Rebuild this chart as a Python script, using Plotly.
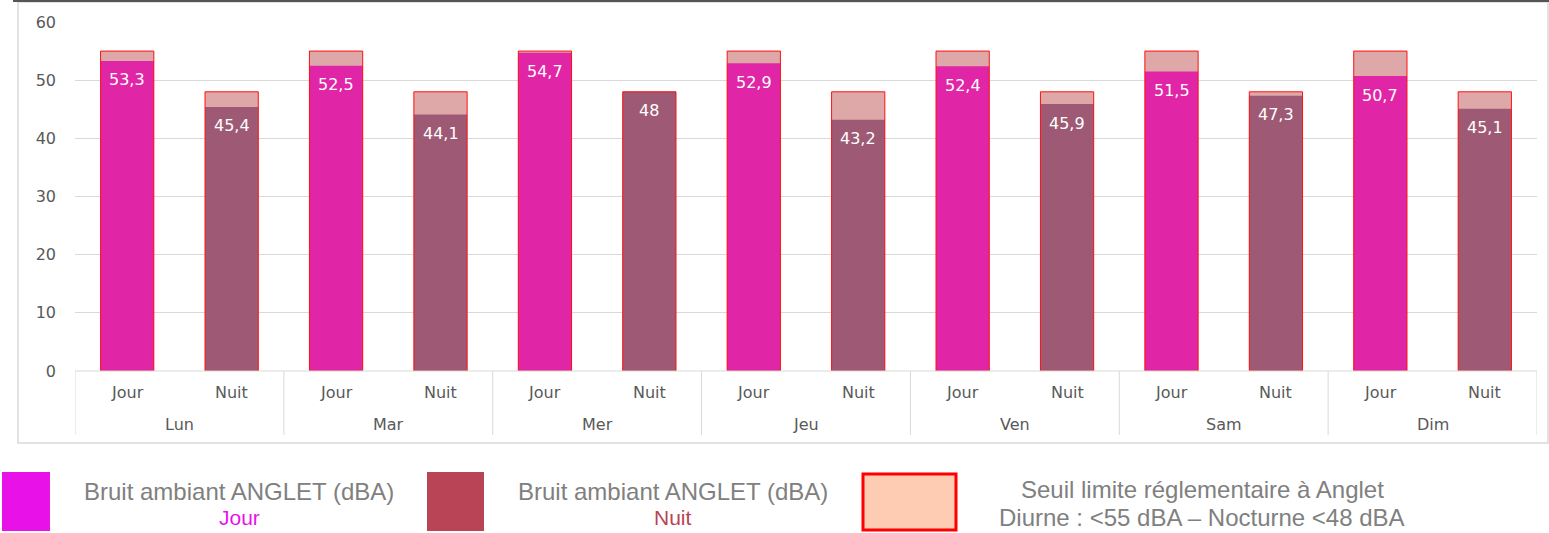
import plotly.graph_objects as go

days = ["Lun", "Mar", "Mer", "Jeu", "Ven", "Sam", "Dim"]
periods = ["Jour", "Nuit"]
jour_vals = [53.3, 52.5, 54.7, 52.9, 52.4, 51.5, 50.7]
nuit_vals = [45.4, 44.1, 48.0, 43.2, 45.9, 47.3, 45.1]
seuil_jour = 55
seuil_nuit = 48

W, H = 1549, 533
L, R, T, B = 75, 12, 22, 162
PW = W - L - R
PH = H - T - B

def px_x(p):
    return (p - L) / PW

def px_y(p):
    return (H - B - p) / PH

cats, pers, vals, seuils, colors = [], [], [], [], []
for d, j, n in zip(days, jour_vals, nuit_vals):
    for p, v, s, c in (("Jour", j, seuil_jour, "#E026A6"), ("Nuit", n, seuil_nuit, "#9E5A74")):
        cats.append(d + " " + p)
        pers.append(p)
        vals.append(v)
        seuils.append(s)
        colors.append(c)

labels = [("%g" % v).replace(".", ",") for v in vals]
bw = 0.51
TICKFONT = dict(family="DejaVu Sans", size=16, color="#595959")

fig = go.Figure()
fig.add_trace(go.Bar(x=cats, y=seuils, width=bw, marker=dict(color="#DEA8A8", line=dict(width=0)),
                     hoverinfo="skip", showlegend=False))
fig.add_trace(go.Bar(x=cats, y=vals, width=bw, marker=dict(color=colors, line=dict(width=0)),
                     showlegend=False))
fig.add_trace(go.Bar(x=cats, y=seuils, width=bw,
                     marker=dict(color="rgba(0,0,0,0)", line=dict(color="#FF1010", width=1)),
                     hoverinfo="skip", showlegend=False))

shapes = []
ann = []

# data labels inside bars
for i, (v, lab) in enumerate(zip(vals, labels)):
    ann.append(dict(x=i, y=v, xref="x", yref="y", text=lab, showarrow=False,
                    xanchor="center", yanchor="middle", yshift=-19,
                    font=dict(family="DejaVu Sans", size=16, color="white")))

# category axis labels & dividers
for i, p in enumerate(pers):
    ann.append(dict(x=i, y=px_y(392), xref="x", yref="paper", text=p, showarrow=False,
                    xanchor="center", yanchor="middle", font=TICKFONT))
for k, d in enumerate(days):
    ann.append(dict(x=2 * k + 0.5, y=px_y(424), xref="x", yref="paper", text=d, showarrow=False,
                    xanchor="center", yanchor="middle", font=TICKFONT))
for k in range(len(days) + 1):
    shapes.append(dict(type="line", xref="x", yref="paper", x0=2 * k - 0.5, x1=2 * k - 0.5,
                       y0=0, y1=px_y(435), line=dict(color="#D9D9D9", width=1)))
shapes.append(dict(type="line", xref="paper", yref="paper", x0=0, x1=1, y0=0, y1=0,
                   line=dict(color="#D9D9D9", width=1)))

# chart frame
shapes.append(dict(type="rect", xref="paper", yref="paper",
                   x0=px_x(18), x1=px_x(1548), y0=px_y(443), y1=px_y(2),
                   line=dict(color="#D9D9D9", width=1.5), fillcolor="rgba(0,0,0,0)", layer="below"))
shapes.append(dict(type="line", xref="paper", yref="paper",
                   x0=px_x(13), x1=px_x(1549), y0=px_y(1), y1=px_y(1),
                   line=dict(color="#555555", width=2)))
# legend swatches
shapes.append(dict(type="rect", xref="paper", yref="paper",
                   x0=px_x(2), x1=px_x(50), y0=px_y(531), y1=px_y(472),
                   line=dict(width=0), fillcolor="#E812E8"))
shapes.append(dict(type="rect", xref="paper", yref="paper",
                   x0=px_x(427), x1=px_x(484), y0=px_y(531), y1=px_y(472),
                   line=dict(width=0), fillcolor="#B84455"))
shapes.append(dict(type="rect", xref="paper", yref="paper",
                   x0=px_x(863), x1=px_x(956), y0=px_y(530), y1=px_y(474),
                   line=dict(color="#FF0000", width=3), fillcolor="#FECBB3"))

def txt(x, y, s, color, size):
    ann.append(dict(x=px_x(x), y=px_y(y), xref="paper", yref="paper", text=s, showarrow=False,
                    xanchor="center", yanchor="middle",
                    font=dict(family="Liberation Sans, Arial", size=size, color=color)))

txt(239, 491, "Bruit ambiant ANGLET (dBA)", "#808080", 24)
txt(239, 517, "Jour", "#E812E8", 21)
txt(673, 491, "Bruit ambiant ANGLET (dBA)", "#808080", 24)
txt(673, 517, "Nuit", "#B84455", 21)
txt(1202, 489, "Seuil limite réglementaire à Anglet", "#808080", 24)
txt(1202, 517, "Diurne : <55 dBA – Nocturne <48 dBA", "#808080", 24)

fig.update_layout(
    width=W, height=H,
    margin=dict(l=L, r=R, t=T, b=B),
    barmode="overlay",
    paper_bgcolor="white", plot_bgcolor="white",
    shapes=shapes, annotations=ann,
    showlegend=False,
    font=dict(family="DejaVu Sans", color="#595959", size=15),
)
fig.update_xaxes(type="category", showticklabels=False, showline=False, ticks="", showgrid=False,
                 range=[-0.5, len(cats) - 0.5])
fig.update_yaxes(range=[0, 60], dtick=10, showgrid=True, gridcolor="#D9D9D9", gridwidth=1,
                 zeroline=False, showline=False, ticks="", ticklabelstandoff=18,
                 tickfont=dict(family="DejaVu Sans", size=16, color="#595959"))

fig.write_html("out.html", config={"displayModeBar": False},
               post_script="document.body.style.margin='0';document.body.style.padding='0';")
